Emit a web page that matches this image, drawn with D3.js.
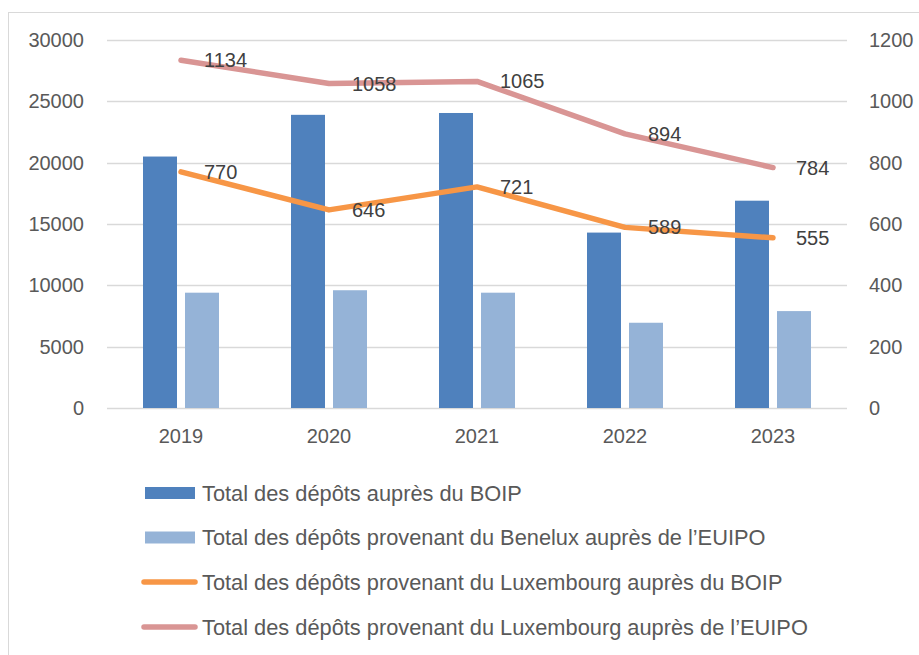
<!DOCTYPE html>
<html>
<head>
<meta charset="utf-8">
<script src="https://cdn.jsdelivr.net/npm/d3@7"></script>
<style>
  body { margin: 0; background: #fff; }
  svg { display: block; font-family: "Liberation Sans", Arial, sans-serif; }
</style>
</head>
<body>
<svg id="chart" width="919" height="655"></svg>
<script>
// data
var years = ["2019", "2020", "2021", "2022", "2023"];
var boip = [20500, 23900, 24050, 14300, 16900];
var euipoBenelux = [9400, 9600, 9400, 6950, 7900];
var luxBoip = [770, 646, 721, 589, 555];
var luxEuipo = [1134, 1058, 1065, 894, 784];
var leftTicks = [0, 5000, 10000, 15000, 20000, 25000, 30000];
var rightTicks = [0, 200, 400, 600, 800, 1000, 1200];

var seriesNames = [
    "Total des dépôts auprès du BOIP",
    "Total des dépôts provenant du Benelux auprès de l\u2019EUIPO",
    "Total des dépôts provenant du Luxembourg auprès du BOIP",
    "Total des dépôts provenant du Luxembourg auprès de l\u2019EUIPO"
];
var colors = ["#4f81bd", "#95b3d7", "#f79646", "#d99594"];

var svg = d3.select("#chart");

// outer frame
svg.append("rect")
    .attr("x", 8.5).attr("y", 12.5)
    .attr("width", 930).attr("height", 660)
    .attr("fill", "none")
    .attr("stroke", "#d9d9d9");

var x0 = 107, x1 = 847, yTop = 40, yBot = 408;

var x = d3.scaleBand().domain(years).range([x0, x1]);
var yL = d3.scaleLinear().domain([0, 30000]).range([yBot, yTop]);
var yR = d3.scaleLinear().domain([0, 1200]).range([yBot, yTop]);

var barW = 34, gap = 8;

// gridlines
svg.append("g")
    .selectAll("line")
    .data(leftTicks)
    .enter().append("line")
    .attr("x1", x0).attr("x2", x1)
    .attr("y1", function (d) { return Math.round(yL(d)) + 0.5; })
    .attr("y2", function (d) { return Math.round(yL(d)) + 0.5; })
    .attr("stroke", "#d9d9d9")
    .attr("stroke-width", 1.5);

// left axis labels
var leftAxis = svg.append("g")
    .attr("transform", "translate(" + (x0 - 23) + ",0)")
    .call(d3.axisLeft(yL).tickValues(leftTicks).tickSize(0).tickPadding(0).tickFormat(d3.format("d")));
leftAxis.select(".domain").remove();
leftAxis.selectAll("text").attr("font-size", 20).attr("fill", "#595959")
    .attr("font-family", "Liberation Sans, Arial, sans-serif");

// right axis labels
var rightAxis = svg.append("g")
    .attr("transform", "translate(869,0)")
    .call(d3.axisRight(yR).tickValues(rightTicks).tickSize(0).tickPadding(0).tickFormat(d3.format("d")));
rightAxis.select(".domain").remove();
rightAxis.selectAll("text").attr("font-size", 20).attr("fill", "#595959")
    .attr("font-family", "Liberation Sans, Arial, sans-serif");

// category labels
var bottomAxis = svg.append("g")
    .attr("transform", "translate(0," + (yBot + 21) + ")")
    .call(d3.axisBottom(x).tickSize(0).tickPadding(0));
bottomAxis.select(".domain").remove();
bottomAxis.selectAll("text").attr("font-size", 20).attr("fill", "#595959")
    .attr("font-family", "Liberation Sans, Arial, sans-serif");

function center(i) { return x(years[i]) + x.bandwidth() / 2; }

// bars
svg.append("g")
    .selectAll("rect")
    .data(boip)
    .enter().append("rect")
    .attr("x", function (d, i) { return center(i) - gap / 2 - barW; })
    .attr("y", function (d) { return yL(d); })
    .attr("width", barW)
    .attr("height", function (d) { return yBot - yL(d); })
    .attr("fill", colors[0]);

svg.append("g")
    .selectAll("rect")
    .data(euipoBenelux)
    .enter().append("rect")
    .attr("x", function (d, i) { return center(i) + gap / 2; })
    .attr("y", function (d) { return yL(d); })
    .attr("width", barW)
    .attr("height", function (d) { return yBot - yL(d); })
    .attr("fill", colors[1]);

// lines
var line = d3.line()
    .x(function (d, i) { return center(i); })
    .y(function (d) { return yR(d); });

[luxBoip, luxEuipo].forEach(function (vals, k) {
    svg.append("path")
        .datum(vals)
        .attr("d", line)
        .attr("fill", "none")
        .attr("stroke", colors[k + 2])
        .attr("stroke-width", 5.5)
        .attr("stroke-linecap", "round")
        .attr("stroke-linejoin", "round");
});

// data labels
[luxBoip, luxEuipo].forEach(function (vals) {
    svg.append("g")
        .selectAll("text")
        .data(vals)
        .enter().append("text")
        .attr("x", function (d, i) { return center(i) + 23; })
        .attr("y", function (d) { return yR(d); })
        .attr("dy", "0.35em")
        .attr("font-size", 20)
        .attr("fill", "#404040")
        .text(function (d) { return d; });
});

// legend
var legend = svg.append("g");
var rowY = [493, 537.5, 582, 627];
seriesNames.forEach(function (name, i) {
    var g = legend.append("g").attr("transform", "translate(0," + rowY[i] + ")");
    if (i < 2) {
        g.append("rect")
            .attr("x", 145).attr("y", -6)
            .attr("width", 50).attr("height", 12)
            .attr("fill", colors[i]);
    } else {
        g.append("line")
            .attr("x1", 144).attr("x2", 195)
            .attr("stroke", colors[i])
            .attr("stroke-width", 5.5)
            .attr("stroke-linecap", "round");
    }
    g.append("text")
        .attr("x", 202)
        .attr("dy", "0.35em")
        .attr("font-size", 21.8)
        .attr("fill", "#595959")
        .text(name);
});
</script>
</body>
</html>
